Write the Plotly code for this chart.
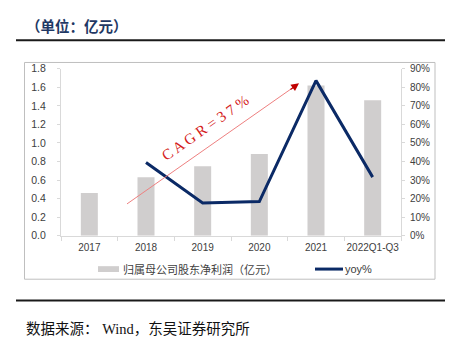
import plotly.graph_objects as go

# Net profit attributable to parent shareholders (100m CNY) and YoY growth
years = ["2017", "2018", "2019", "2020", "2021", "2022Q1-Q3"]
net_profit = [0.46, 0.63, 0.75, 0.88, 1.62, 1.46]
yoy = [None, 0.395, 0.177, 0.184, 0.836, 0.316]

left_ticks = [0.0, 0.2, 0.4, 0.6, 0.8, 1.0, 1.2, 1.4, 1.6, 1.8]
right_ticks = [0.0, 0.1, 0.2, 0.3, 0.4, 0.5, 0.6, 0.7, 0.8, 0.9]

W, H = 453, 347
BAR_COLOR = "#D0CECE"
LINE_COLOR = "#0B2A66"
AXIS_COLOR = "#D9D9D9"
TICK_FONT = dict(family="Liberation Sans, Arial", size=10.5, color="#404040")
CJK = "Noto Sans CJK SC"


def px(x):
    return x / W


def py(y):
    return 1 - y / H


fig = go.Figure()
fig.add_trace(go.Bar(
    x=years, y=net_profit, name="归属母公司股东净利润（亿元）",
    marker=dict(color=BAR_COLOR, line=dict(width=0)), width=0.3,
    yaxis="y", showlegend=False,
))
fig.add_trace(go.Scatter(
    x=years, y=yoy, name="yoy%", mode="lines",
    line=dict(color=LINE_COLOR, width=3), yaxis="y2", showlegend=False,
))

fig.update_layout(
    width=W, height=H,
    margin=dict(l=0, r=0, t=0, b=0),
    paper_bgcolor="white", plot_bgcolor="white",
    xaxis=dict(
        domain=[px(61), px(401)], type="category",
        showline=True, linecolor=AXIS_COLOR, linewidth=1,
        ticks="outside", tickson="boundaries", ticklen=4, tickcolor=AXIS_COLOR,
        showgrid=False, tickfont=dict(TICK_FONT, size=10), tickangle=0,
        ticklabelstandoff=2,
    ),
    yaxis=dict(
        domain=[py(238), py(65)], range=[0, 1.8],
        tickvals=left_ticks, tickformat=".1f",
        showline=True, linecolor=AXIS_COLOR, linewidth=1,
        ticks="outside", ticklen=3, tickcolor=AXIS_COLOR,
        showgrid=False, zeroline=False, tickfont=TICK_FONT,
        ticklabelstandoff=9,
    ),
    yaxis2=dict(
        overlaying="y", side="right", range=[0, 0.9],
        tickvals=right_ticks, tickformat=".0%",
        showline=True, linecolor=AXIS_COLOR, linewidth=1,
        ticks="outside", ticklen=3, tickcolor=AXIS_COLOR,
        showgrid=False, zeroline=False, tickfont=dict(TICK_FONT, size=10),
        ticklabelstandoff=3,
    ),
    bargap=0.7,
)

shapes = [
    # chart frame
    dict(type="rect", xref="paper", yref="paper",
         x0=px(24.5), x1=px(435), y0=py(283), y1=py(58.5),
         line=dict(color="#BFBFBF", width=1), layer="below"),
    # header and footer rules
    dict(type="line", xref="paper", yref="paper",
         x0=px(16), x1=px(445), y0=py(35.5), y1=py(35.5),
         line=dict(color="#1A1A1A", width=2)),
    dict(type="line", xref="paper", yref="paper",
         x0=px(16), x1=px(445), y0=py(305), y1=py(305),
         line=dict(color="#1A1A1A", width=2)),
    # CAGR trend arrow shaft
    dict(type="line", xref="paper", yref="paper",
         x0=px(127), y0=py(205), x1=px(293), y1=py(84.5),
         line=dict(color="#EE8080", width=1)),
    # legend swatches
    dict(type="rect", xref="paper", yref="paper",
         x0=px(98), x1=px(119), y0=py(275.5), y1=py(269.5),
         fillcolor=BAR_COLOR, line=dict(width=0)),
    dict(type="line", xref="paper", yref="paper",
         x0=px(315), x1=px(343), y0=py(272.5), y1=py(272.5),
         line=dict(color=LINE_COLOR, width=3)),
]

annotations = [
    dict(text="（单位：亿元）", xref="paper", yref="paper",
         x=px(24), y=py(20.5), xanchor="left", yanchor="middle", showarrow=False,
         font=dict(family=CJK, size=14.5, color="#1F3864", weight="bold")),
    dict(text="数据来源：<span style='font-family:Liberation Serif'> Wind</span>，东吴证券研究所",
         xref="paper", yref="paper",
         x=px(24), y=py(332.5), xanchor="left", yanchor="middle", showarrow=False,
         font=dict(family=CJK, size=14.5, color="#111111")),
    # arrow head
    dict(text="", xref="paper", yref="paper", x=px(299), y=py(80),
         ax=-10, ay=7.3, showarrow=True, arrowhead=2, arrowsize=1.3,
         arrowwidth=1.2, arrowcolor="#C00000"),
    dict(text="C A G R = 3 7 %", xref="paper", yref="paper",
         x=px(205), y=py(126), xanchor="center", yanchor="middle",
         showarrow=False, textangle=-35,
         font=dict(family="Liberation Serif, Times New Roman", size=15,
                   color="#D42020")),
    # legend labels
    dict(text="归属母公司股东净利润（亿元）", xref="paper", yref="paper",
         x=px(121), y=py(272.5), xanchor="left", yanchor="middle",
         showarrow=False, font=dict(family=CJK, size=11, color="#404040")),
    dict(text="yoy%", xref="paper", yref="paper",
         x=px(343), y=py(272.5), xanchor="left", yanchor="middle",
         showarrow=False, font=dict(family="Liberation Sans, Arial", size=11,
                                   color="#404040")),
]

fig.update_layout(shapes=shapes, annotations=annotations)
fig.write_html("out.html")
